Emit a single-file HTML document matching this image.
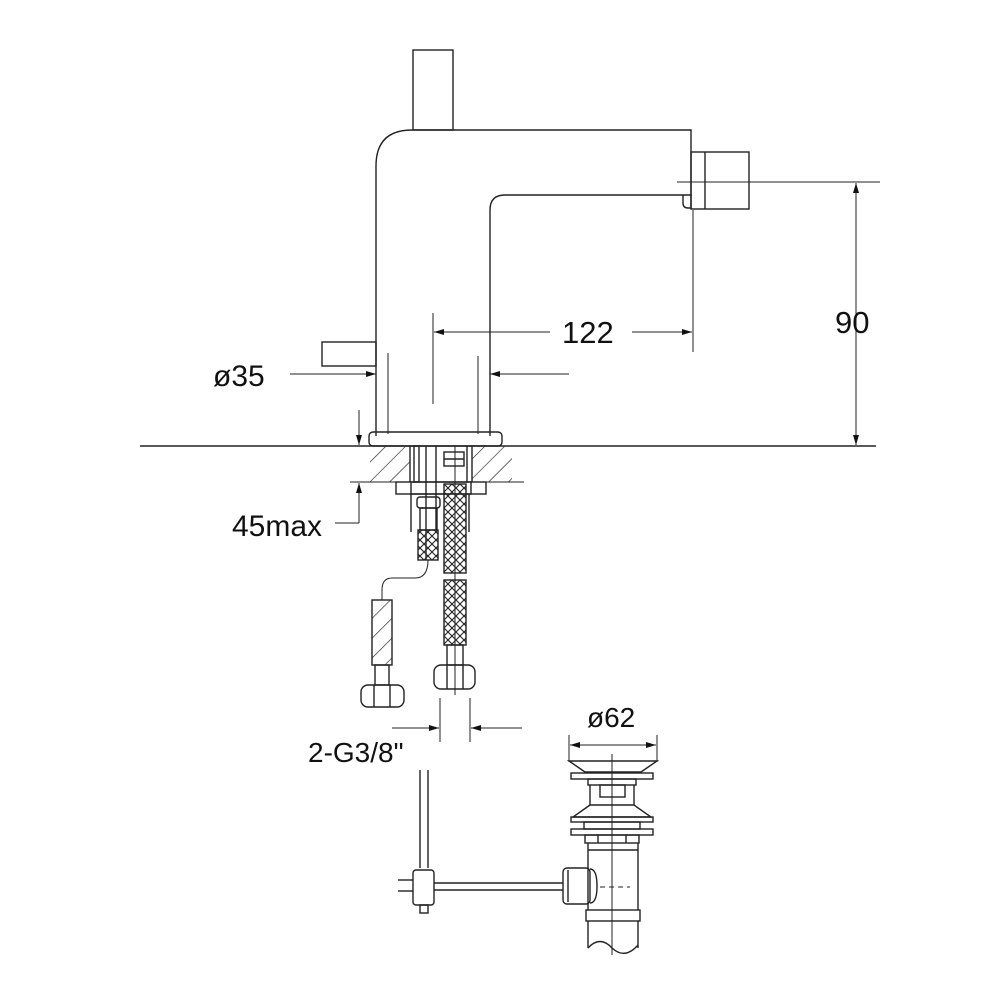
<!DOCTYPE html>
<html><head><meta charset="utf-8"><style>
html,body{margin:0;padding:0;background:#fff}
svg{display:block}
text{font-family:"Liberation Sans",Arial,sans-serif;fill:#111}
</style></head><body>
<svg width="1000" height="1000" viewBox="0 0 1000 1000" xmlns="http://www.w3.org/2000/svg">
<defs>
<marker id="a" viewBox="0 0 10 6" refX="10" refY="3" markerWidth="10" markerHeight="6" orient="auto-start-reverse" markerUnits="userSpaceOnUse"><path d="M0,0 L10,3 L0,6 z" fill="#111"/></marker>
<pattern id="x" width="8" height="8" patternUnits="userSpaceOnUse"><path d="M0,0 L8,8 M8,0 L0,8" stroke="#222" stroke-width="1.1"/></pattern>
<pattern id="h" width="14" height="14" patternUnits="userSpaceOnUse" patternTransform="rotate(45)"><path d="M0,0 L0,14" stroke="#222" stroke-width="1.3"/></pattern>
</defs>
<g fill="none" stroke="#222" stroke-width="1.4">
<rect x="413" y="50" width="40" height="80"/>
<path d="M376,436 L376,166 Q376,130 412,130 L691,130 L691,196"/>
<path d="M490,436 L490,210 Q490,195 505,195 L691,195 L691,208 L688,208 Q683,208 683,203 L683,195"/>
<rect x="691" y="152" width="58" height="57"/>
<line x1="705" y1="152" x2="705" y2="209"/>
<line x1="677" y1="182" x2="880" y2="182" stroke-width="1"/>
<rect x="322" y="342" width="54" height="24"/>
<rect x="369" y="432" width="133" height="14" rx="4"/>
<line x1="140" y1="446" x2="876" y2="446"/>
<line x1="433" y1="313" x2="433" y2="404" stroke-width="1"/>
<line x1="693" y1="210" x2="693" y2="352" stroke-width="1"/>
<line x1="550" y1="332" x2="434" y2="332" stroke-width="1" marker-end="url(#a)"/>
<line x1="632" y1="332" x2="692" y2="332" stroke-width="1" marker-end="url(#a)"/>
<line x1="290" y1="374" x2="376" y2="374" stroke-width="1" marker-end="url(#a)"/>
<line x1="569" y1="374" x2="490" y2="374" stroke-width="1" marker-end="url(#a)"/>
<line x1="388" y1="353" x2="388" y2="434" stroke-width="1"/>
<line x1="478" y1="356" x2="478" y2="434" stroke-width="1"/>
<line x1="856" y1="183" x2="856" y2="445" stroke-width="1" marker-start="url(#a)" marker-end="url(#a)"/>
<line x1="359" y1="410" x2="359" y2="445" stroke-width="1" marker-end="url(#a)"/>
<line x1="350" y1="482" x2="524" y2="482" stroke-width="1"/>
<path d="M359,523 L359,483" stroke-width="1" marker-end="url(#a)"/>
<line x1="359" y1="523" x2="335" y2="523" stroke-width="1"/>
<rect x="370" y="446" width="40" height="36" fill="url(#h)" stroke="none"/>
<rect x="472" y="446" width="40" height="36" fill="url(#h)" stroke="none"/>
<line x1="410" y1="446" x2="410" y2="482"/><line x1="472" y1="446" x2="472" y2="482"/>
<rect x="414" y="446" width="5" height="36"/>
<line x1="426" y1="446" x2="426" y2="560"/><line x1="436" y1="446" x2="436" y2="530"/>
<rect x="444" y="452" width="20" height="14"/>
<line x1="444" y1="459" x2="464" y2="459"/>
<line x1="467" y1="446" x2="467" y2="482"/>
<rect x="396" y="482" width="90" height="12"/>
<rect x="411" y="482" width="60" height="12"/>
<line x1="411" y1="494" x2="411" y2="532"/><line x1="469" y1="494" x2="469" y2="532"/>
<rect x="417" y="497" width="23" height="11" rx="3"/>
<rect x="420" y="508" width="17" height="22"/>
<rect x="418" y="530" width="20" height="30" fill="url(#x)"/>
<rect x="444" y="484" width="22" height="89" fill="url(#x)"/>
<rect x="444" y="580" width="22" height="65" fill="url(#x)"/>
<line x1="455" y1="446" x2="455" y2="695" stroke-width="1"/>
<rect x="447" y="645" width="16" height="20"/>
<rect x="434" y="665" width="41" height="24" rx="7"/>
<line x1="447" y1="665" x2="447" y2="689"/><line x1="463" y1="665" x2="463" y2="689"/>
<path d="M428,560 Q428,578 415,578 L392,578 Q382,578 382,590 L382,600" stroke-width="1"/>
<rect x="372" y="600" width="20" height="65" fill="url(#h)"/>
<rect x="375" y="665" width="14" height="20"/>
<rect x="361" y="685" width="43" height="22" rx="7"/>
<line x1="374" y1="685" x2="374" y2="707"/><line x1="390" y1="685" x2="390" y2="707"/>
<line x1="440" y1="698" x2="440" y2="742" stroke-width="1"/>
<line x1="470" y1="698" x2="470" y2="742" stroke-width="1"/>
<line x1="392" y1="728" x2="439" y2="728" stroke-width="1" marker-end="url(#a)"/>
<line x1="522" y1="728" x2="471" y2="728" stroke-width="1" marker-end="url(#a)"/>
<line x1="569" y1="735" x2="569" y2="762" stroke-width="1"/>
<line x1="657" y1="735" x2="657" y2="762" stroke-width="1"/>
<line x1="570" y1="745" x2="656" y2="745" stroke-width="1" marker-start="url(#a)" marker-end="url(#a)"/>
<line x1="612" y1="754" x2="612" y2="955" stroke-width="1"/>
<path d="M569,761 L657,761 L641,772 L585,772 Z"/>
<rect x="571" y="773" width="82" height="6"/>
<rect x="588" y="779" width="48" height="6"/>
<rect x="600" y="785" width="25" height="12"/>
<line x1="590" y1="785" x2="590" y2="805"/><line x1="634" y1="785" x2="634" y2="805"/>
<path d="M590,805 L573,817 L651,817 L634,805 Z"/>
<rect x="571" y="817" width="82" height="5"/>
<rect x="584" y="822" width="56" height="7"/>
<rect x="571" y="829" width="82" height="6"/>
<rect x="585" y="835" width="54" height="8"/>
<line x1="598" y1="835" x2="598" y2="843"/><line x1="626" y1="835" x2="626" y2="843"/>
<line x1="588" y1="843" x2="588" y2="910"/><line x1="638" y1="843" x2="638" y2="910"/>
<line x1="588" y1="850" x2="638" y2="850"/>
<rect x="586" y="910" width="54" height="11"/>
<line x1="588" y1="921" x2="588" y2="948"/><line x1="638" y1="921" x2="638" y2="948"/>
<path d="M588,948 Q600,935 612,948 Q625,960 638,945"/>
<line x1="600" y1="887" x2="630" y2="887" stroke-dasharray="5,4" stroke-width="1"/>
<path d="M590,869 Q597,869 597,886 Q597,903 590,903"/>
<rect x="563" y="868" width="27" height="36" rx="4"/>
<line x1="568" y1="870" x2="568" y2="902"/>
<line x1="434" y1="883" x2="563" y2="883"/><line x1="434" y1="890" x2="563" y2="890"/>
<line x1="398" y1="880" x2="413" y2="880"/><line x1="398" y1="891" x2="413" y2="891"/>
<rect x="413" y="870" width="21" height="35" rx="3"/>
<line x1="420" y1="770" x2="420" y2="868"/><line x1="428" y1="770" x2="428" y2="868"/>
<rect x="420" y="905" width="8" height="8"/>
</g>
<text x="213" y="386" font-size="30">ø35</text>
<text x="562" y="343" font-size="31">122</text>
<text x="835" y="333" font-size="31">90</text>
<text x="232" y="536" font-size="30">45max</text>
<text x="308" y="762" font-size="28">2-G3/8"</text>
<text x="587" y="727" font-size="28">ø62</text>
</svg>
</body></html>
